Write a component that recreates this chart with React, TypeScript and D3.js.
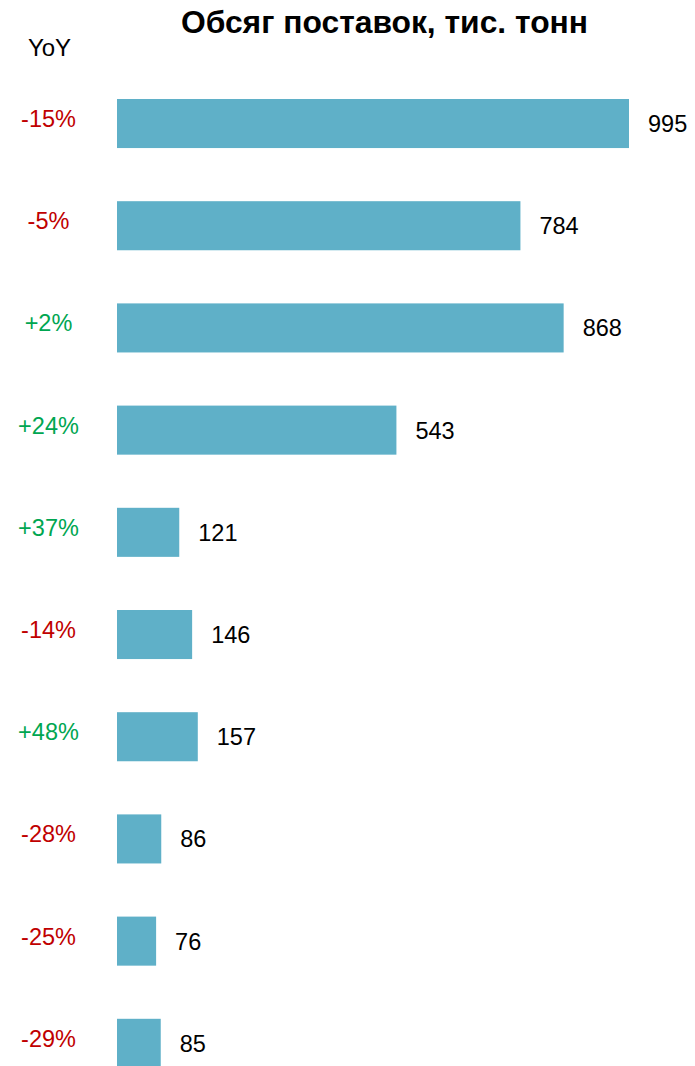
import React from "react";
import * as d3 from "d3";

const values = [995, 784, 868, 543, 121, 146, 157, 86, 76, 85];
const yoyLabels = ["-15%", "-5%", "+2%", "+24%", "+37%", "-14%", "+48%", "-28%", "-25%", "-29%"];
const titleText = "Обсяг поставок, тис. тонн";
const yoyHeader = "YoY";

const W = 695;
const H = 1066;
const BAR_COLOR = "#5fb0c8";
const RED = "#c00000";
const GREEN = "#00a651";
const FONT = "'Liberation Sans', Arial, sans-serif";

export default function App() {
  const idx = values.map((_, i) => i);
  const x = d3.scaleLinear().domain([0, 995]).range([117, 629]);
  const step = 102.2;
  const pad = 0.52;
  const y = d3
    .scaleBand<number>()
    .domain(idx)
    .range([99, 99 + step * values.length])
    .paddingInner(pad)
    .paddingOuter(pad / 2)
    .align(0);
  const bw = y.bandwidth();

  return (
    <svg
      width={W}
      height={H}
      style={{ position: "absolute", left: 0, top: 0, background: "#fff" }}
      fontFamily={FONT}
    >
      <rect x={0} y={0} width={W} height={H} fill="#fff" />
      <text x={384.5} y={33} textAnchor="middle" fontSize={31.8} fontWeight="bold" fill="#000">
        {titleText}
      </text>
      <text x={49.5} y={56} textAnchor="middle" fontSize={24} fill="#000">
        {yoyHeader}
      </text>
      {values.map((v, i) => {
        const y0 = y(i) as number;
        const cy = y0 + bw / 2;
        const lab = yoyLabels[i];
        return (
          <g key={i}>
            <rect x={x(0)} y={y0} width={x(v) - x(0)} height={bw} fill={BAR_COLOR} />
            <text x={x(v) + 19} y={cy + 8.5} fontSize={23.5} fill="#000">
              {v}
            </text>
            <text
              x={48.5}
              y={cy + 3.5}
              textAnchor="middle"
              fontSize={23.5}
              fill={lab.startsWith("+") ? GREEN : RED}
            >
              {lab}
            </text>
          </g>
        );
      })}
    </svg>
  );
}
